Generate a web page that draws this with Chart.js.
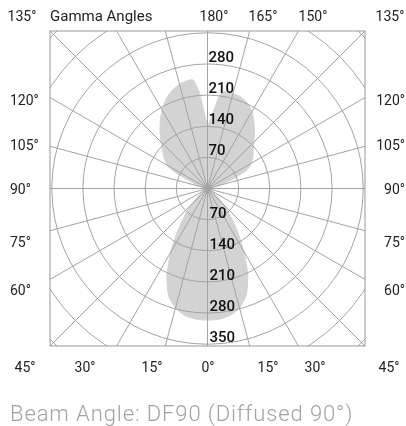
<!DOCTYPE html>
<html>
<head>
<meta charset="utf-8">
<script src="https://cdn.jsdelivr.net/npm/chart.js@4.4.1/dist/chart.umd.min.js"></script>
<style>
  body { margin: 0; background: #fff; }
  #wrap { position: relative; width: 406px; height: 426px; }
  #beamTitle { position: absolute; left: 10px; top: 401px; font: 300 22px Roboto, sans-serif; letter-spacing: 0.9px; color: #a3a3a3; white-space: nowrap; }
</style>
</head>
<body>
<div id="wrap">
  <canvas id="polarChart" width="406" height="426"></canvas>
  <div id="beamTitle">Beam Angle: DF90 (Diffused 90°)</div>
</div>
<script>
// ===== Data (gamma angle in degrees, intensity in cd) =====
const gammaAngles = [0, 5, 10, 15, 20, 25, 30, 35, 40, 45, 50, 55, 60, 65, 70, 75, 80, 85, 90,
  95, 100, 105, 110, 112.5, 115, 117.5, 120, 125, 130, 135, 140, 145, 150, 155, 160, 165, 170, 172.5, 175, 177.5, 180];
// right half of the diagram
const rightIntensity = [296, 295, 290, 278, 255, 214, 163, 117, 80, 52, 30, 15, 6, 2, 0, 0, 0, 0, 0,
  4, 12, 26, 56, 75, 96, 107, 113, 125, 134, 147, 165, 182, 200, 212, 219, 221, 221, 212, 180, 155, 140];
// left half of the diagram
const leftIntensity = [296, 295, 290, 278, 256, 216, 165, 118, 80, 52, 30, 15, 6, 2, 0, 0, 0, 0, 0,
  3, 8, 16, 30, 42, 62, 92, 104, 119, 132, 148, 166, 185, 204, 221, 234, 243, 247, 246, 219, 170, 140];

const ringValues = [70, 140, 210, 280, 350, 420, 490];
const upperTicks = [70, 140, 210, 280];
const lowerTicks = [70, 140, 210, 280, 350];
const spokeStep = 15;
const axisLimit = 354;

// ===== Convert polar readings to x/y (0 deg points down) =====
const outline = [];
gammaAngles.forEach((g, i) => {
    const t = g * Math.PI / 180;
    outline.push({x: rightIntensity[i] * Math.sin(t), y: -rightIntensity[i] * Math.cos(t)});
});
for (let i = gammaAngles.length - 1; i >= 0; i--) {
    const t = gammaAngles[i] * Math.PI / 180;
    outline.push({x: -leftIntensity[i] * Math.sin(t), y: -leftIntensity[i] * Math.cos(t)});
}

// ===== Angle labels around the frame =====
const angleLabels = [
    {t: '135°', x: 22, y: 20.5, a: 'center'},
    {t: 'Gamma Angles', x: 50, y: 20.5, a: 'left'},
    {t: '180°', x: 214, y: 20.5, a: 'center'},
    {t: '165°', x: 263, y: 20.5, a: 'center'},
    {t: '150°', x: 313, y: 20.5, a: 'center'},
    {t: '135°', x: 390, y: 20.5, a: 'center'},
    {t: '120°', x: 10, y: 105, a: 'left'},
    {t: '105°', x: 10, y: 150, a: 'left'},
    {t: '90°', x: 10, y: 194, a: 'left'},
    {t: '75°', x: 10, y: 247, a: 'left'},
    {t: '60°', x: 10, y: 295, a: 'left'},
    {t: '120°', x: 405, y: 105, a: 'right'},
    {t: '105°', x: 405, y: 150, a: 'right'},
    {t: '90°', x: 405, y: 194, a: 'right'},
    {t: '75°', x: 405, y: 247, a: 'right'},
    {t: '60°', x: 405, y: 295, a: 'right'},
    {t: '45°', x: 25, y: 371.5, a: 'center'},
    {t: '30°', x: 85, y: 371.5, a: 'center'},
    {t: '15°', x: 152, y: 371.5, a: 'center'},
    {t: '0°', x: 208, y: 371.5, a: 'center'},
    {t: '15°', x: 268, y: 371.5, a: 'center'},
    {t: '30°', x: 315, y: 371.5, a: 'center'},
    {t: '45°', x: 389, y: 371.5, a: 'center'}
];

// ===== Grid, frame and labels =====
const polarGrid = {
    id: 'polarGrid',
    afterDatasetsDraw(chart) {
        const {ctx, chartArea: a, scales: {x, y}} = chart;
        const cx = x.getPixelForValue(0), cy = y.getPixelForValue(0);
        ctx.save();
        ctx.beginPath();
        ctx.rect(a.left, a.top, a.right - a.left, a.bottom - a.top);
        ctx.clip();
        ctx.strokeStyle = '#a3a3a3';
        ctx.lineWidth = 1;
        ringValues.forEach(v => {
            ctx.beginPath();
            ctx.arc(cx, cy, x.getPixelForValue(v) - cx, 0, Math.PI * 2);
            ctx.stroke();
        });
        for (let g = 0; g < 360; g += spokeStep) {
            const t = g * Math.PI / 180;
            ctx.beginPath();
            ctx.moveTo(cx, cy);
            ctx.lineTo(cx + 400 * Math.sin(t), cy + 400 * Math.cos(t));
            ctx.stroke();
        }
        ctx.restore();

        ctx.save();
        ctx.strokeStyle = '#999';
        ctx.lineWidth = 1;
        ctx.strokeRect(a.left, a.top, a.right - a.left, a.bottom - a.top);

        ctx.fillStyle = '#111';
        ctx.font = '500 15px Roboto';
        ctx.textAlign = 'left';
        ctx.textBaseline = 'alphabetic';
        upperTicks.forEach(v => ctx.fillText(String(v), cx + 1, y.getPixelForValue(v) - 2));
        lowerTicks.forEach(v => ctx.fillText(String(v), cx + 2, y.getPixelForValue(-v) - 2));

        ctx.fillStyle = '#222';
        angleLabels.forEach(l => {
            ctx.textAlign = l.a;
            ctx.font = l.t === 'Gamma Angles' ? '15px Roboto' : '14px Roboto';
            ctx.fillText(l.t, l.x, l.y);
        });
        ctx.restore();
    }
};

const chart = new Chart(document.getElementById('polarChart'), {
    type: 'scatter',
    data: {
        datasets: [{
            data: outline,
            showLine: true,
            fill: 'shape',
            backgroundColor: '#d3d3d3',
            borderColor: '#d3d3d3',
            borderWidth: 1,
            pointRadius: 0,
            tension: 0.2
        }]
    },
    options: {
        responsive: false,
        animation: false,
        devicePixelRatio: 1,
        layout: {padding: {left: 50, right: 41, top: 31, bottom: 80}},
        plugins: {legend: {display: false}, tooltip: {enabled: false}},
        scales: {
            x: {type: 'linear', min: -axisLimit, max: axisLimit, display: false},
            y: {type: 'linear', min: -axisLimit, max: axisLimit, display: false}
        }
    },
    plugins: [polarGrid]
});
</script>
</body>
</html>
